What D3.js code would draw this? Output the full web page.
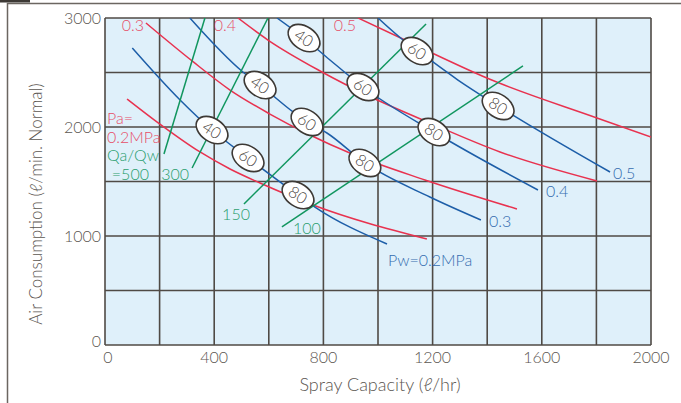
<!DOCTYPE html>
<html>
<head>
<meta charset="utf-8">
<script src="https://cdn.jsdelivr.net/npm/d3@7"></script>
<style>
  body { margin: 0; background: #fff; }
  text { font-family: Lato, "Liberation Sans", Arial, sans-serif; font-weight: 300; }
</style>
</head>
<body>
<div id="chart"></div>
<script>
// ticks
const xTicks = [0, 400, 800, 1200, 1600, 2000]
const yTicks = [0, 1000, 2000, 3000]

// Pw curves (water pressure, blue)
const pw02 = [[100, 2725], [275, 2248], [392, 1972], [524, 1716], [707, 1376], [769, 1266], [1033, 927]]
const pw03 = [[311, 3000], [505, 2505], [568, 2385], [689, 2138], [740, 2046], [813, 1945], [952, 1670], [1190, 1358], [1377, 1147]]
const pw04 = [[630, 3000], [729, 2816], [824, 2615], [945, 2367], [1205, 1954], [1586, 1422]]
const pw05 = [[1000, 3000], [1092, 2798], [1147, 2697], [1293, 2431], [1440, 2193], [1850, 1587]]

// Pa curves (air pressure, red)
const pa02 = [[81, 2257], [201, 2027], [348, 1771], [458, 1615], [568, 1486], [762, 1284], [1179, 972]]
const pa03 = [[150, 2954], [319, 2606], [458, 2339], [604, 2119], [751, 1927], [897, 1761], [1172, 1514], [1509, 1248]]
const pa04 = [[487, 3000], [597, 2798], [788, 2514], [982, 2266], [1190, 2037], [1447, 1771], [1802, 1505]]
const pa05 = [[927, 3000], [1099, 2798], [1198, 2679], [1399, 2449], [1802, 2083], [2000, 1908]]

// Qa/Qw lines (green)
const qa500 = [[216, 1752], [366, 3000]]
const qa300 = [[319, 1624], [597, 3000]]
const qa150 = [[509, 1294], [1176, 2945]]
const qa100 = [[648, 1083], [1531, 2560]]

// oval tags on the Pw curves
const ovals = [
  [392, 1972, "40"], [524, 1716, "60"], [707, 1376, "80"],
  [568, 2385, "40"], [740, 2046, "60"], [952, 1670, "80"],
  [729, 2816, "40"], [945, 2367, "60"], [1205, 1954, "80"],
  [1143, 2697, "60"], [1440, 2193, "80"]
]

const blue = "#1d5ea8", red = "#e8324f", green = "#11965f"
const grid = "#4f4a45"

const W = 681, H = 403
const svg = d3.select("#chart").append("svg").attr("width", W).attr("height", H)

const x = d3.scaleLinear([0, 2000], [105, 651])
const y = d3.scaleLinear([0, 3000], [345, 18])

// outer frame
svg.append("rect").attr("x", 0).attr("y", 0).attr("width", 30).attr("height", 2.5).attr("fill", "#3d3935")
svg.append("path").attr("d", `M7.5,${H}V3.5H${W}`).attr("fill", "none").attr("stroke", "#6b6661").attr("stroke-width", 1.5)

// plot background
svg.append("rect")
    .attr("x", x(0)).attr("y", y(3000))
    .attr("width", x(2000) - x(0)).attr("height", y(0) - y(3000))
    .attr("fill", "#dff0fa")

svg.append("clipPath").attr("id", "clip").append("rect")
    .attr("x", x(0)).attr("y", y(3000))
    .attr("width", x(2000) - x(0)).attr("height", y(0) - y(3000))

// grid
const gGrid = svg.append("g").attr("stroke", grid).attr("stroke-width", 1.6)
gGrid.selectAll(".v").data(d3.range(0, 2001, 200)).join("line")
    .attr("x1", d => x(d)).attr("x2", d => x(d)).attr("y1", y(0)).attr("y2", y(3000))
gGrid.selectAll(".h").data(d3.range(0, 3001, 500)).join("line")
    .attr("y1", d => y(d)).attr("y2", d => y(d)).attr("x1", x(0)).attr("x2", x(2000))

// tick labels
svg.append("g").attr("font-size", 16).attr("fill", "#5b5651").attr("text-anchor", "middle")
  .selectAll("text").data(xTicks).join("text")
    .attr("x", d => x(d) + (d === 0 ? 3 : 0)).attr("y", y(0) + 18)
    .text(d => d)
svg.append("g").attr("font-size", 16).attr("fill", "#5b5651").attr("text-anchor", "end")
  .selectAll("text").data(yTicks).join("text")
    .attr("x", x(0) - 4).attr("y", d => y(d) + (d === 0 ? 2 : 6))
    .text(d => d)

// axis titles
svg.append("text").attr("x", 380).attr("y", 391).attr("text-anchor", "middle")
    .attr("font-size", 18).attr("fill", "#5b5651").text("Spray Capacity (ℓ/hr)")
svg.append("text").attr("transform", "translate(42,204) rotate(-90)").attr("text-anchor", "middle")
    .attr("font-size", 17).attr("fill", "#5b5651").text("Air Consumption (ℓ/min. Normal)")

const line = d3.line().x(d => x(d[0])).y(d => y(d[1])).curve(d3.curveMonotoneX)
const plot = svg.append("g").attr("clip-path", "url(#clip)").attr("fill", "none").attr("stroke-width", 1.5)

plot.selectAll(".pa").data([pa02, pa03, pa04, pa05]).join("path")
    .attr("stroke", red).attr("d", line)
plot.selectAll(".pw").data([pw02, pw03, pw04, pw05]).join("path")
    .attr("stroke", blue).attr("d", line)
plot.selectAll(".qa").data([qa500, qa300, qa150, qa100]).join("path")
    .attr("stroke", green).attr("d", d3.line().x(d => x(d[0])).y(d => y(d[1])))

// ovals
const ov = svg.append("g").selectAll("g").data(ovals).join("g")
    .attr("transform", d => `translate(${x(d[0])},${y(d[1])}) rotate(34)`)
ov.append("ellipse").attr("rx", 17.5).attr("ry", 11.5)
    .attr("fill", "#fff").attr("stroke", "#3d3935").attr("stroke-width", 1.6)
ov.append("text").attr("text-anchor", "middle").attr("dy", "0.36em")
    .attr("font-size", 16).attr("fill", "#4a4541").text(d => d[2])

// labels
const lab = svg.append("g").attr("font-size", 16)

// red labels at top
;[[pa03, "0.3"], [pa04, "0.4"], [pa05, "0.5"]].forEach(([s, t]) => {
  lab.append("text").attr("x", x(s[0][0]) - 2).attr("y", y(3000) + 13)
      .attr("text-anchor", "end").attr("fill", red).attr("opacity", 0.85).text(t)
})
lab.append("text").attr("x", x(0) + 2).attr("y", y(pa02[0][1]) + 25).attr("fill", red).attr("opacity", 0.85).text("Pa=")
lab.append("text").attr("x", x(0) + 2).attr("y", y(pa02[0][1]) + 44).attr("fill", red).attr("opacity", 0.85).text("0.2MPa")

// blue labels at ends
;[[pw03, "0.3"], [pw04, "0.4"], [pw05, "0.5"]].forEach(([s, t]) => {
  const p = s[s.length - 1]
  lab.append("text").attr("x", x(p[0]) + (t === "0.5" ? 3 : 8)).attr("y", y(p[1]) + 7)
      .attr("fill", blue).attr("opacity", 0.9).text(t)
})
lab.append("text").attr("x", x(pw02[pw02.length - 1][0]) + 1).attr("y", y(pw02[pw02.length - 1][1]) + 22)
    .attr("fill", blue).attr("opacity", 0.9).text("Pw=0.2MPa")

// green labels
lab.append("text").attr("x", x(0) + 2).attr("y", y(qa500[0][1]) + 7).attr("fill", green).attr("opacity", 0.9).text("Qa/Qw")
lab.append("text").attr("x", x(qa500[0][0]) - 15).attr("y", y(qa500[0][1]) + 26).attr("text-anchor", "end")
    .attr("fill", green).attr("opacity", 0.9).text("=500")
lab.append("text").attr("x", x(qa300[0][0]) - 3).attr("y", y(qa300[0][1]) + 12).attr("text-anchor", "end")
    .attr("fill", green).attr("opacity", 0.9).text("300")
lab.append("text").attr("x", x(qa150[0][0]) + 6).attr("y", y(qa150[0][1]) + 16).attr("text-anchor", "end")
    .attr("fill", green).attr("opacity", 0.9).text("150")
lab.append("text").attr("x", x(qa100[0][0]) + 11).attr("y", y(qa100[0][1]) + 7)
    .attr("fill", green).attr("opacity", 0.9).text("100")
</script>
</body>
</html>
